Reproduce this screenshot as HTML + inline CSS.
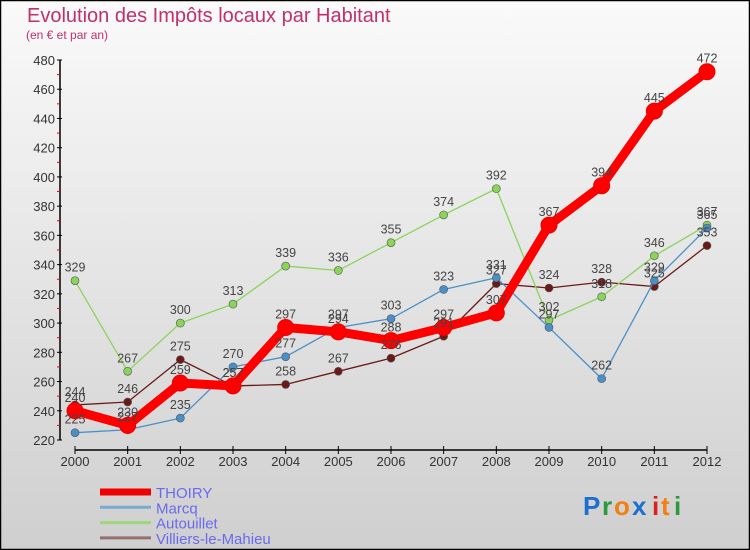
<!DOCTYPE html>
<html><head><meta charset="utf-8"><style>
body{margin:0;}
#wrap{width:750px;height:550px;position:relative;overflow:hidden;}
svg text{font-family:"Liberation Sans",sans-serif;}
</style></head><body>
<div id="wrap">
<svg id="chart" width="750" height="550" viewBox="0 0 750 550">
<defs><linearGradient id="bg" x1="0" y1="0" x2="0" y2="1"><stop offset="0" stop-color="#fafafa"/><stop offset="1" stop-color="#cfcfcf"/></linearGradient></defs>
<rect x="0.5" y="0.5" width="749" height="549" fill="url(#bg)" stroke="#000" stroke-width="1.5"/>
<text x="27" y="22" font-size="20" fill="#c0306a">Evolution des Impôts locaux par Habitant</text>
<text x="26" y="39" font-size="12" fill="#c0306a">(en € et par an)</text>
<g id="axes"></g>
<g id="series"></g>
<g id="labels"></g>
<g id="legend"></g>
<g font-size="26" font-weight="bold">
<text x="583" y="515" fill="#1a6fd0">P</text><text x="602" y="515" fill="#2a9a3a">r</text><text x="614" y="515" fill="#f08010">o</text><text x="632" y="515" fill="#1a6fd0">x</text><text x="652" y="515" fill="#e02020">i</text><text x="661" y="515" fill="#f08010">t</text><text x="674" y="515" fill="#2a9a3a">i</text>
</g>
</svg>
</div>
<script>
const years=[2000,2001,2002,2003,2004,2005,2006,2007,2008,2009,2010,2011,2012];
const thoiry=[240,230,259,257,297,294,288,297,307,367,394,445,472];
const marcq=[225,227,235,270,277,297,303,323,331,297,262,329,365];
const autouillet=[329,267,300,313,339,336,355,374,392,302,318,346,367];
const villiers=[244,246,275,257,258,267,276,291,327,324,328,325,353];
const yTicks=[220,240,260,280,300,320,340,360,380,400,420,440,460,480];
const seriesNames=["THOIRY","Marcq","Autouillet","Villiers-le-Mahieu"];

const NS="http://www.w3.org/2000/svg";
const x=i=>75+i*(707-75)/(years.length-1);
const y=v=>440-(v-220)*(380/260);
function mk(tag,attrs,parent){const e=document.createElementNS(NS,tag);for(const k in attrs)e.setAttribute(k,attrs[k]);parent.appendChild(e);return e;}
const axes=document.getElementById('axes'),sg=document.getElementById('series'),lg=document.getElementById('labels'),leg=document.getElementById('legend');

let ya=mk('line',{x1:60,y1:y(480),x2:60,y2:y(220),stroke:'#000','stroke-width':1.5},axes);


yTicks.forEach((t,i)=>{
  mk('line',{x1:57,x2:62,y1:y(t),y2:y(t),stroke:'#000'},axes);
  if(i<yTicks.length-1)mk('line',{x1:57,x2:60,y1:y(t+10),y2:y(t+10),stroke:'#e00'},axes);
  const tx=mk('text',{x:55,y:y(t)+5,'font-size':13,fill:'#333','text-anchor':'end'},axes);tx.textContent=t;
  
  
});
let xa=mk('line',{x1:x(0),y1:450,x2:x(years.length-1),y2:450,stroke:'#000','stroke-width':1.5},axes);


years.forEach((yr,i)=>{
  mk('line',{x1:x(i),x2:x(i),y1:446,y2:454,stroke:'#000'},axes);
  const tx=mk('text',{x:x(i),y:466,'font-size':13,fill:'#333','text-anchor':'middle'},axes);tx.textContent=yr;
  
  
});

const defs=[
 {d:villiers,c:'#6b1a1a',w:1.3,r:4,name:'villiers-series'},
 {d:autouillet,c:'#8ad45a',w:1.3,r:4,name:'autouillet-series'},
 {d:marcq,c:'#4a90c8',w:1.3,r:4,name:'marcq-series'},
 {d:thoiry,c:'#ff0000',w:9,r:8,name:'thoiry-series'}
];
defs.forEach(s=>{
  const g=mk('g',{},sg);
  
  
  mk('polyline',{points:s.d.map((v,i)=>x(i)+','+y(v)).join(' '),fill:'none',stroke:s.c,'stroke-width':s.w,'stroke-linejoin':'round'},g);
  s.d.forEach((v,i)=>{
    const c=mk('circle',{cx:x(i),cy:y(v),r:s.r,fill:s.c,stroke:s.w>2?'#e00':'#555','stroke-width':s.w>2?1:0.6},g);
    
    
    const t=mk('text',{x:x(i),y:y(v)-9,'font-size':12.5,fill:'#444','text-anchor':'middle'},lg);t.textContent=v;
    
    
  });
});

const legC=['#f00000','#7aaad0','#9ed67a','#947070'],legW=[7,3,3,3];
seriesNames.forEach((n,i)=>{
  const yy=492+i*15.3;
  mk('line',{x1:100,x2:151,y1:yy,y2:yy,stroke:legC[i],'stroke-width':legW[i]},leg);
  const t=mk('text',{x:156,y:yy+6,'font-size':15,fill:'#6a6af0'},leg);t.textContent=n;
  
  
});
</script>
</body></html>
